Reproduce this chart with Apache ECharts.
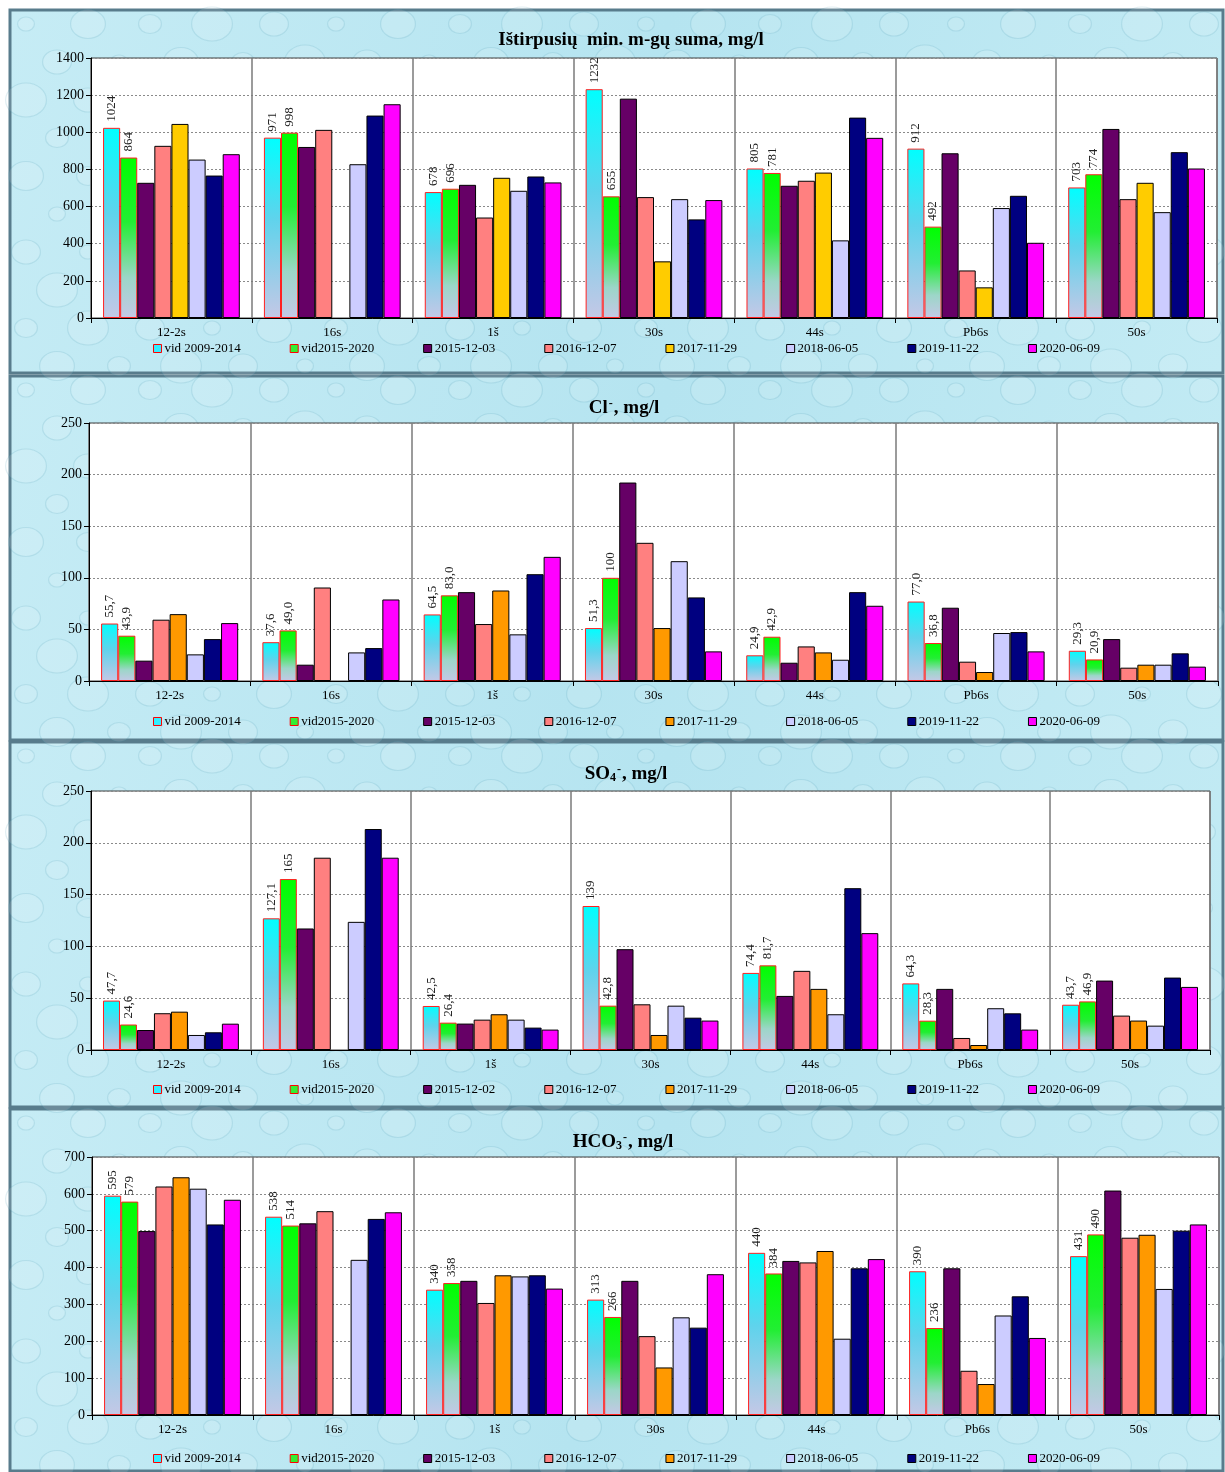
<!DOCTYPE html>
<html>
<head>
<meta charset="utf-8">
<script src="https://cdn.jsdelivr.net/npm/echarts@6/dist/echarts.min.js"></script>
<style>
  html, body { margin: 0; padding: 0; background: #ffffff; }
  #chart { width: 1225px; height: 1472px; }
</style>
</head>
<body>
<div id="chart"></div>
<script>
// Monitoring wells
const categories = ['12-2s', '16s', '1š', '30s', '44s', 'Pb6s', '50s'];

// Legend names (SO4 panel uses a different sampling date for the 2015 survey)
const seriesNames = ['vid 2009-2014', 'vid2015-2020', '2015-12-03', '2016-12-07', '2017-11-29', '2018-06-05', '2019-11-22', '2020-06-09'];
const seriesNamesSO4 = ['vid 2009-2014', 'vid2015-2020', '2015-12-02', '2016-12-07', '2017-11-29', '2018-06-05', '2019-11-22', '2020-06-09'];

// Total dissolved minerals, mg/l
const tdsAvg0914 = [1024, 971, 678, 1232, 805, 912, 703];
const tdsAvg1520 = [864, 998, 696, 655, 781, 492, 774];
const tds151203 = [728, 921, 717, 1181, 712, 887, 1018];
const tds161207 = [927, 1013, 541, 651, 739, 256, 640];
const tds171129 = [1045, null, 755, 305, 783, 165, 728];
const tds180605 = [853, 828, 685, 640, 418, 592, 570];
const tds191122 = [767, 1090, 762, 531, 1079, 658, 893];
const tds200609 = [882, 1151, 730, 635, 970, 405, 805];

// Chloride, mg/l
const clAvg0914 = [55.7, 37.6, 64.5, 51.3, 24.9, 77.0, 29.3];
const clAvg1520 = [43.9, 49.0, 83.0, 100, 42.9, 36.8, 20.9];
const cl151203 = [19.7, 15.8, 86.1, 192.3, 17.7, 71.0, 40.6];
const cl161207 = [59.4, 90.6, 55.2, 133.9, 33.5, 18.7, 12.9];
const cl171129 = [64.8, null, 87.7, 51.3, 27.7, 8.7, 15.8];
const cl180605 = [25.8, 27.7, 45.2, 116.1, 20.6, 46.5, 15.8];
const cl191122 = [40.6, 31.9, 103.5, 81.0, 86.1, 47.4, 26.8];
const cl200609 = [56.1, 79.0, 120.3, 28.7, 72.9, 28.7, 13.9];

// Sulphate, mg/l
const so4Avg0914 = [47.7, 127.1, 42.5, 139, 74.4, 64.3, 43.7];
const so4Avg1520 = [24.6, 165, 26.4, 42.8, 81.7, 28.3, 46.9];
const so4151202 = [19.3, 117.3, 25.5, 97.3, 52.2, 59.0, 67.0];
const so4161207 = [35.5, 185.6, 29.3, 44.1, 76.4, 11.6, 33.2];
const so4171129 = [37.0, null, 34.5, 14.5, 59.0, 4.8, 28.4];
const so4180605 = [14.5, 123.7, 29.3, 42.8, 34.5, 40.3, 23.5];
const so4191122 = [17.1, 213.3, 21.6, 31.2, 156.2, 35.4, 69.9];
const so4200609 = [25.4, 185.6, 19.7, 28.4, 112.8, 19.7, 60.9];

// Bicarbonate, mg/l
const hco3Avg0914 = [595, 538, 340, 313, 440, 390, 431];
const hco3Avg1520 = [579, 514, 358, 266, 384, 236, 490];
const hco3151203 = [499, 520, 364, 364, 418, 398, 609];
const hco3161207 = [620, 553, 304, 214, 414, 120, 481];
const hco3171129 = [645, null, 379, 129, 445, 84, 489];
const hco3180605 = [614, 421, 376, 265, 207, 270, 342];
const hco3191122 = [517, 532, 379, 237, 398, 322, 500];
const hco3200609 = [584, 550, 343, 382, 423, 209, 517];

// Y-axis ranges per panel
const yMaxes = [1400, 250, 250, 700];
const yIntervals = [200, 50, 50, 100];

const SERIF = '"Liberation Serif", "Times New Roman", serif';

const panels = [
  { names: seriesNames, gold: '#FFCC00',
    data: [tdsAvg0914, tdsAvg1520, tds151203, tds161207, tds171129, tds180605, tds191122, tds200609],
    box: [10, 10, 1213, 363], grid: { left: 91, top: 58, width: 1126, height: 260 },
    titleTop: 26, titleRich: '{b|Ištirpusių  min. m-gų suma, mg/l}', titleX: 626,
    legendTop: 337 },
  { names: seriesNames, gold: '#FF9900',
    data: [clAvg0914, clAvg1520, cl151203, cl161207, cl171129, cl180605, cl191122, cl200609],
    box: [10, 376, 1213, 364], grid: { left: 89, top: 423, width: 1129, height: 258 },
    titleTop: 393, titleRich: '{b|Cl}{sup|-}{b|, mg/l}', titleX: 619,
    legendTop: 710 },
  { names: seriesNamesSO4, gold: '#FF9900',
    data: [so4Avg0914, so4Avg1520, so4151202, so4161207, so4171129, so4180605, so4191122, so4200609],
    box: [10, 742, 1213, 365], grid: { left: 91, top: 791, width: 1119, height: 259 },
    titleTop: 759, titleRich: '{b|SO}{sub|4}{sup|-}{b|, mg/l}', titleX: 621,
    legendTop: 1078 },
  { names: seriesNames, gold: '#FF9900',
    data: [hco3Avg0914, hco3Avg1520, hco3151203, hco3161207, hco3171129, hco3180605, hco3191122, hco3200609],
    box: [10, 1109, 1213, 362], grid: { left: 92, top: 1157, width: 1127, height: 258 },
    titleTop: 1127, titleRich: '{b|HCO}{sub|3}{sup|-}{b|, mg/l}', titleX: 618,
    legendTop: 1447 }
];

function fills(gold) {
  const avgA = new echarts.graphic.LinearGradient(0, 0, 0, 1, [
    { offset: 0, color: '#00FFFF' },
    { offset: 0.45, color: '#5FD3EC' },
    { offset: 1, color: '#C4C8E6' }
  ]);
  const avgB = new echarts.graphic.LinearGradient(0, 0, 0, 1, [
    { offset: 0, color: '#00FF00' },
    { offset: 0.4, color: '#22EE33' },
    { offset: 0.75, color: '#9CD6C8' },
    { offset: 1, color: '#C4C8E6' }
  ]);
  return [avgA, avgB, '#660066', '#FF8080', gold, '#CCCCFF', '#000080', '#FF00FF'];
}
const legendFills = ['#33EEFF', '#33EE33', '#660066', '#FF8080', null, '#CCCCFF', '#000080', '#FF00FF'];

function labelText(v) {
  if (v >= 100 && Number.isInteger(v)) return String(v);
  return v.toFixed(1).replace('.', ',');
}

// Soft water-droplet backdrop: a fixed lattice of faint rings per panel
function dropletElements(bx, by, bw, bh) {
  const els = [];
  const stepX = 62, stepY = 38;
  let row = 0;
  for (let y = by + 14; y < by + bh - 4; y += stepY, row++) {
    let col = 0;
    for (let x = bx + 16 + (row % 2) * 31; x < bx + bw - 8; x += stepX, col++) {
      const r = 7 + ((row * 7 + col * 3) % 5) * 2.5;
      els.push({
        type: 'ellipse', z: -9, silent: true,
        shape: { cx: x, cy: y, rx: r * 1.2, ry: r },
        style: {
          fill: 'rgba(255,255,255,0.12)',
          stroke: 'rgba(70,150,175,0.16)', lineWidth: 1.2
        }
      });
    }
  }
  return els;
}

const option = {
  animation: false,
  backgroundColor: '#ffffff',
  graphic: [],
  title: [],
  legend: [],
  grid: [],
  xAxis: [],
  yAxis: [],
  series: []
};

panels.forEach((p, pi) => {
  const [bx, by, bw, bh] = p.box;
  // Panel backdrop
  option.graphic.push({
    type: 'rect', z: -10, silent: true,
    shape: { x: bx, y: by, width: bw, height: bh },
    style: {
      fill: new echarts.graphic.LinearGradient(0, 0, 1, 1, [
        { offset: 0, color: '#C6ECF5' },
        { offset: 0.5, color: '#B5E4F0' },
        { offset: 1, color: '#C3EBF4' }
      ]),
      stroke: '#587C8C', lineWidth: 3
    }
  });
  dropletElements(bx, by, bw, bh).forEach(e => option.graphic.push(e));

  option.title.push({
    text: p.titleRich,
    left: p.titleX, top: p.titleTop, textAlign: 'center',
    textStyle: {
      rich: {
        b: { fontFamily: SERIF, fontWeight: 'bold', fontSize: 19, color: '#000', verticalAlign: 'bottom' },
        sup: { fontFamily: SERIF, fontWeight: 'bold', fontSize: 12, color: '#000', verticalAlign: 'top', padding: [0, 1, 8, 1] },
        sub: { fontFamily: SERIF, fontWeight: 'bold', fontSize: 12, color: '#000', verticalAlign: 'bottom', padding: [6, 0, 0, 0] }
      }
    }
  });

  option.legend.push({
    left: 148, top: p.legendTop,
    itemWidth: 8, itemHeight: 8, itemGap: 49,
    icon: 'rect',
    selectedMode: false,
    textStyle: { fontFamily: SERIF, fontSize: 13, color: '#000', padding: [0, 0, 0, -2] },
    data: p.names.map((n, si) => ({
      name: n,
      itemStyle: {
        color: si === 4 ? p.gold : legendFills[si],
        borderColor: si < 2 ? '#FF0000' : '#000',
        borderWidth: 1
      }
    }))
  });

  option.grid.push(Object.assign({
    show: true, backgroundColor: '#ffffff', borderColor: '#404040', borderWidth: 1
  }, p.grid));

  option.xAxis.push({
    type: 'category', gridIndex: pi, data: categories,
    axisLine: { lineStyle: { color: '#000', width: 1 } },
    axisTick: { show: true, length: 5, lineStyle: { color: '#000' } },
    axisLabel: { fontFamily: SERIF, fontSize: 13, color: '#000', margin: 8 },
    splitLine: { show: true, lineStyle: { color: '#7A7A7A', width: 1.5 } }
  });

  option.yAxis.push({
    type: 'value', gridIndex: pi, min: 0, max: yMaxes[pi], interval: yIntervals[pi],
    axisLine: { show: true, lineStyle: { color: '#000', width: 1 } },
    axisTick: { show: true, length: 5, lineStyle: { color: '#000' } },
    axisLabel: { fontFamily: SERIF, fontSize: 14, color: '#000', margin: 7, formatter: v => String(v) },
    splitLine: { show: true, lineStyle: { color: '#8A8A8A', width: 1, type: [2, 2] } }
  });

  const fl = fills(p.gold);
  p.data.forEach((arr, si) => {
    const s = {
      type: 'bar',
      name: p.names[si],
      xAxisIndex: pi, yAxisIndex: pi,
      data: arr.map(v => (v === null ? '-' : v)),
      barGap: '0%',
      barCategoryGap: '15%',
      itemStyle: {
        color: fl[si],
        borderColor: si < 2 ? '#FF2020' : '#000',
        borderWidth: 1
      }
    };
    if (si < 2) {
      s.label = {
        show: true, position: 'top', rotate: 90, distance: 6,
        align: 'left', verticalAlign: 'middle',
        fontFamily: SERIF, fontSize: 13, color: '#222',
        formatter: prm => labelText(prm.value)
      };
    }
    option.series.push(s);
  });
});

const chart = echarts.init(document.getElementById('chart'), null, { renderer: 'canvas' });
chart.setOption(option);
</script>
</body>
</html>
